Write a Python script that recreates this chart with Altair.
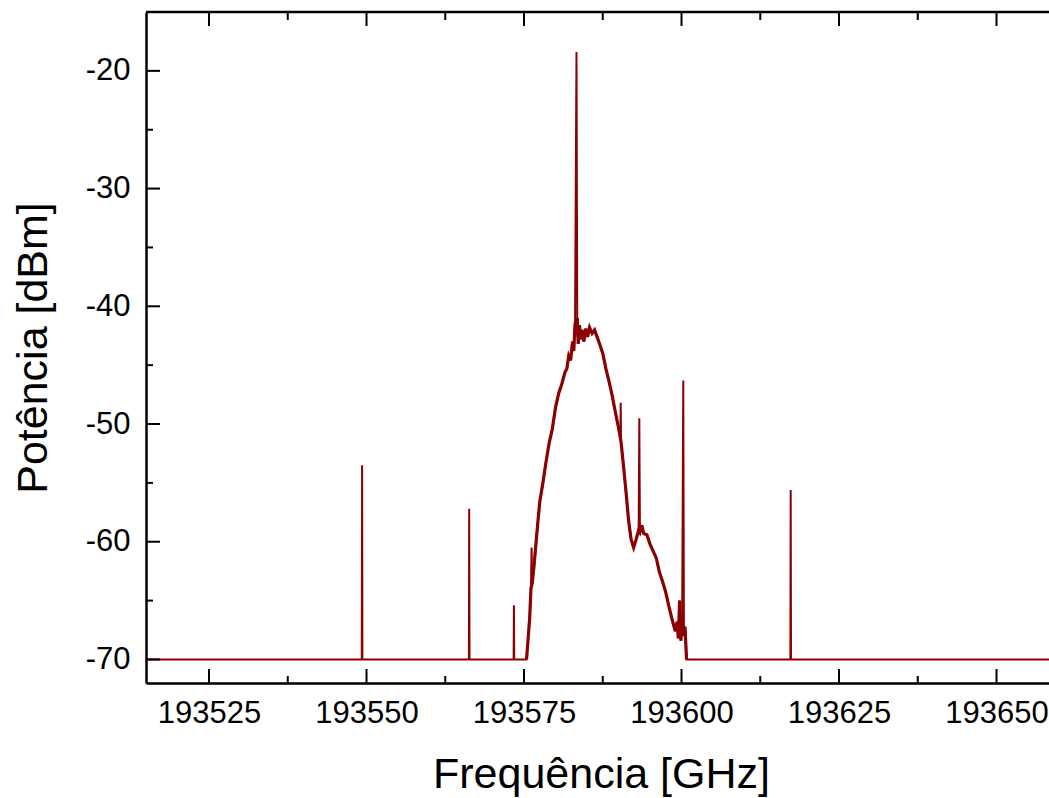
import altair as alt
import pandas as pd

# ---- data ----
freq = [
    193515.0,
    193549.25, 193549.30, 193549.35,
    193566.25, 193566.30, 193566.35,
    193573.35, 193573.40, 193573.45,
    193575.40, 193575.90, 193576.10, 193576.20, 193576.30, 193576.60,
    193577.00, 193577.50, 193578.00, 193578.50, 193579.00, 193579.50,
    193580.00, 193580.50, 193581.00, 193581.50, 193581.80, 193582.10,
    193582.40, 193582.70, 193582.90, 193583.10, 193583.33, 193583.45,
    193583.60, 193583.80, 193584.00, 193584.20, 193584.50, 193584.80,
    193585.10, 193585.40, 193585.80, 193586.20, 193586.60, 193587.00,
    193587.50, 193588.00, 193588.50, 193589.00, 193589.50, 193590.00,
    193590.30, 193590.35, 193590.40, 193590.80, 193591.20, 193591.60,
    193592.00, 193592.40, 193592.80, 193593.20, 193593.30, 193593.40,
    193593.70, 193594.00, 193594.50, 193595.00, 193595.50, 193596.00,
    193596.50, 193597.00, 193597.50, 193598.00, 193598.50, 193599.00,
    193599.30, 193599.50, 193599.70, 193599.90, 193600.10, 193600.28,
    193600.38, 193600.55, 193600.80,
    193617.28, 193617.33, 193617.38,
    193658.33,
]
power = [
    -70.0,
    -70.0, -53.5, -70.0,
    -70.0, -57.2, -70.0,
    -70.0, -65.4, -70.0,
    -70.0, -66.5, -64.0, -60.5, -63.5, -62.0,
    -59.5, -56.6, -55.0, -53.2, -51.6, -50.4,
    -48.6, -47.4, -46.6, -45.6, -45.3, -44.2,
    -44.6, -43.0, -43.8, -41.5, -18.4, -41.0,
    -43.2, -41.6, -42.8, -42.0, -43.0, -41.9,
    -42.6, -41.8, -42.3, -42.0, -42.6, -43.2,
    -44.0, -45.3, -46.4, -47.6, -49.0, -50.3,
    -51.2, -48.2, -51.5, -53.6, -55.8, -58.2,
    -59.8, -60.5, -59.8, -59.0, -49.5, -59.2,
    -58.6, -59.3, -59.4, -60.2, -60.8, -61.4,
    -62.6, -63.4, -64.3, -65.5, -66.6, -67.6,
    -66.8, -68.2, -65.0, -68.4, -67.0, -46.3,
    -68.0, -67.2, -70.0,
    -70.0, -55.6, -70.0,
    -70.0,
]
# narrow spikes that sit on top of the broad (noisy) signal band
band_range = [193575.40, 193600.80]
band_spikes = [193576.20, 193583.33, 193590.35, 193593.30, 193600.28]

x_major = [193525, 193550, 193575, 193600, 193625, 193650]
x_minor = [193537.5, 193562.5, 193587.5, 193612.5, 193637.5]
y_major = [-70, -60, -50, -40, -30, -20]
y_minor = [-65, -55, -45, -35, -25]

X_DOMAIN = [193515, 193658.33]
Y_DOMAIN = [-72, -15]
W, H = 903, 671
FONT = "Liberation Sans"
LINE_COLOR = "#8B0000"

xs = alt.Scale(domain=X_DOMAIN, nice=False, zero=False)
ys = alt.Scale(domain=Y_DOMAIN, nice=False, zero=False)

x_axis = alt.Axis(
    values=x_major, labelExpr="'' + datum.value",
    labelPadding=15, title="Frequência [GHz]",
    titleX=455, titleY=104, titleBaseline="alphabetic", titleAlign="center")
y_axis = alt.Axis(
    values=y_major, labelExpr="'' + datum.value",
    labelPadding=16, title="Potência [dBm]", titleAngle=270,
    titleX=-100, titleY=335.5, titleBaseline="alphabetic", titleAlign="center")

df = pd.DataFrame({"f": freq, "p": power})
band_df = df[(df.f >= band_range[0]) & (df.f <= band_range[1]) & (~df.f.isin(band_spikes))]

line = alt.Chart(df).mark_line(color=LINE_COLOR, strokeWidth=2).encode(
    x=alt.X("f:Q", scale=xs, axis=x_axis),
    y=alt.Y("p:Q", scale=ys, axis=y_axis),
)
band = alt.Chart(band_df).mark_line(color=LINE_COLOR, strokeWidth=3.2).encode(
    x=alt.X("f:Q", scale=xs, axis=x_axis),
    y=alt.Y("p:Q", scale=ys, axis=y_axis),
)

def xticks(vals, y0, y1):
    return alt.Chart(pd.DataFrame({"f": vals})).mark_rule(color="black", strokeWidth=2).encode(
        x=alt.X("f:Q", scale=xs, axis=x_axis), y=alt.value(y0), y2=alt.value(y1))

def yticks(vals, length):
    return alt.Chart(pd.DataFrame({"p": vals})).mark_rule(color="black", strokeWidth=2).encode(
        y=alt.Y("p:Q", scale=ys, axis=y_axis), x=alt.value(0), x2=alt.value(length))

top_border = alt.Chart(pd.DataFrame({"k": [0]})).mark_rule(color="black", strokeWidth=2.5).encode(
    x=alt.value(0), x2=alt.value(W), y=alt.value(0))

chart = alt.layer(
    line,
    band,
    xticks(x_major, H, H - 14),
    xticks(x_minor, H, H - 7),
    xticks(x_major, 0, 14),
    xticks(x_minor, 0, 8),
    yticks(y_major, 14),
    yticks(y_minor, 7),
    top_border,
).properties(
    width=W, height=H,
    autosize=alt.AutoSizeParams(type="none"),
    padding={"left": 146, "top": 12, "right": 0, "bottom": 115},
    background="white",
).configure_view(stroke=None).configure_axis(
    ticks=False, tickSize=0, grid=False,
    domain=True, domainColor="black", domainWidth=2.5,
    labelFont=FONT, labelFontSize=31, labelColor="black",
    labelFlush=False, labelOverlap=False,
    titleFont=FONT, titleFontSize=43, titleFontWeight="normal", titleColor="black",
)

chart.save("out.html", embed_options={"renderer": "svg", "actions": False})
